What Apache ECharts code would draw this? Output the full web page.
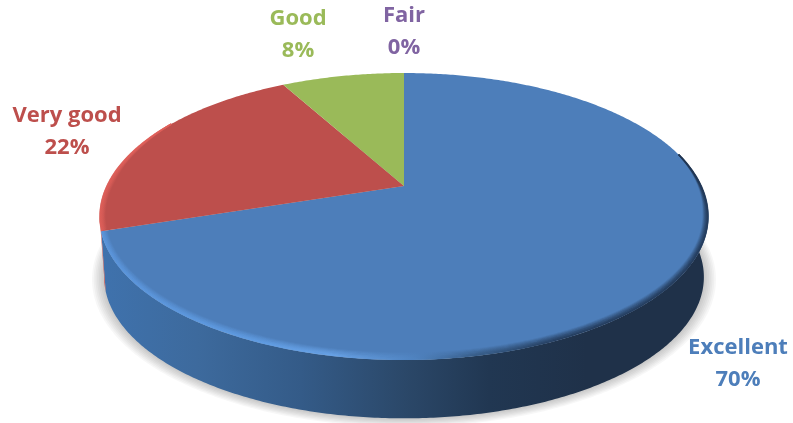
<!DOCTYPE html>
<html>
<head>
<meta charset="utf-8">
<style>
html, body { margin: 0; padding: 0; background: #fff; }
#main { width: 793px; height: 423px; }
</style>
<script src="https://cdn.jsdelivr.net/npm/echarts@6/dist/echarts.min.js"></script>
</head>
<body>
<div id="main"></div>
<script>
// 数据
var categories = ['Excellent', 'Very good', 'Good', 'Fair'];
var percents = [70, 22, 8, 0];
var colors = ['#4d7eba', '#bd4f4c', '#9aba59', '#8064a2'];
var labelAnchors = [[738, 347], [67, 115], [298, 18], [404, 15]];

// 透视参数: 圆盘投影到屏幕
var cx = 404, cy = 186, scaleX = 297.5, scaleY = 137, tilt = 0.2125;
var depth = 61;

function project(theta, r, bottom) {
    var X = r * Math.sin(theta), Y = r * Math.cos(theta);
    var d = 1 + tilt * Y;
    var shrink = bottom ? 0.985 : 1;
    return [cx + shrink * scaleX * X / d, cy - shrink * scaleY * Y / d + (bottom ? depth : 0)];
}

function arc(from, to, r, bottom) {
    var pts = [];
    var n = Math.max(2, Math.ceil(Math.abs(to - from) / 0.01));
    for (var i = 0; i <= n; i++) {
        pts.push(project(from + (to - from) * i / n, r, bottom));
    }
    return pts;
}

// 边缘向内偏移 inset 像素, 两端收窄
function insetArc(from, to, inset, startTaper, endTaper) {
    var pts = [];
    var n = Math.max(2, Math.ceil(Math.abs(to - from) / 0.01));
    for (var i = 0; i <= n; i++) {
        var t = from + (to - from) * i / n;
        var p = project(t, 1, false);
        var w = Math.min(1, (t - startTaper[0]) / startTaper[1], (endTaper[0] - t) / endTaper[1]);
        w = Math.max(0, w);
        pts.push([p[0] - Math.sin(t) * 0.8 * inset * w, p[1] + Math.cos(t) * inset * w]);
    }
    return pts;
}

function sliceRange(idx) {
    var total = percents.reduce(function(a, b) { return a + b; }, 0);
    var before = 0;
    for (var i = 0; i < idx; i++) before += percents[i];
    return [before / total * Math.PI * 2, (before + percents[idx]) / total * Math.PI * 2];
}

function hGrad(stops) {
    return {
        type: 'linear', x: 100, y: 0, x2: 708, y2: 0, global: true,
        colorStops: stops.map(function(s) { return { offset: s[0], color: s[1] }; })
    };
}

var wallFill = [
    hGrad([[0, '#3f72ad'], [0.16, '#3d6a9d'], [0.33, '#345b88'], [0.5, '#2b4869'], [0.64, '#213752'], [0.8, '#1f3149'], [1, '#1f3149']]),
    hGrad([[0, '#c8524e'], [1, '#a84441']])
];
var bevelStroke = [
    hGrad([[0, '#5c97de'], [0.25, '#62a0e8'], [0.38, '#6ca8ee'], [0.52, '#4f83c0'], [0.62, '#33567e'], [0.75, '#1e3350'], [1, '#1e3350']]),
    hGrad([[0, '#e0605a'], [1, '#d2574f']])
];

var rad = Math.PI / 180;
var frontFrom = 76 * rad, frontTo = 300 * rad;
var wallFrom = 80 * rad, wallTo = 258 * rad;

function renderBase(params, api) {
    var idx = params.dataIndex;
    var range = sliceRange(idx);
    var children = [];
    if (idx === 0) {
        // 底部阴影
        for (var s = 7; s >= 1; s--) {
            children.push({
                type: 'polygon',
                shape: { points: arc(0, Math.PI * 2, 1 + s * 0.0055, true) },
                style: { fill: '#000', opacity: 0.032 }
            });
        }
    }
    var a = Math.max(range[0], wallFrom), b = Math.min(range[1], wallTo);
    if (b > a && wallFill[idx]) {
        children.push({
            type: 'polygon',
            shape: { points: arc(a, b, 1, false).concat(arc(b, a, 1, true)) },
            style: { fill: wallFill[idx] }
        });
    }
    return { type: 'group', children: children };
}

function renderTop(params, api) {
    var idx = params.dataIndex;
    var range = sliceRange(idx);
    var children = [];
    if (api.value(1) > 0) {
        children.push({
            type: 'polygon',
            shape: { points: [[cx, cy]].concat(arc(range[0], range[1], 1, false)) },
            style: { fill: colors[idx] }
        });
        // 边缘高光
        var a = Math.max(range[0], frontFrom), b = Math.min(range[1], frontTo);
        if (b > a && bevelStroke[idx]) {
            for (var i = 0; i < 7; i++) {
                children.push({
                    type: 'polyline',
                    shape: { points: insetArc(a, b, 0.6 + i * 1.05, [frontFrom, 25 * rad], [frontTo, 28 * rad]) },
                    style: { fill: null, stroke: bevelStroke[idx], lineWidth: 1.5, opacity: 0.8 - i * 0.115 }
                });
            }
        }
    }
    var anchor = labelAnchors[idx];
    children.push({
        type: 'text',
        style: {
            x: anchor[0], y: anchor[1] - 15,
            text: categories[idx] + '\n' + api.value(1) + '%',
            fill: colors[idx],
            align: 'center',
            verticalAlign: 'top',
            font: 'bold 22px "Open Sans"',
            lineHeight: 32
        }
    });
    return { type: 'group', children: children };
}

var myChart = echarts.init(document.getElementById('main'));
var seriesData = categories.map(function(c, i) { return [c, percents[i]]; });
var option = {
    animation: false,
    backgroundColor: '#fff',
    series: [
        { type: 'custom', coordinateSystem: 'none', renderItem: renderBase, data: seriesData, silent: true, z: 1 },
        { type: 'custom', coordinateSystem: 'none', renderItem: renderTop, data: seriesData, silent: true, z: 2 }
    ]
};
myChart.setOption(option);
</script>
</body>
</html>
